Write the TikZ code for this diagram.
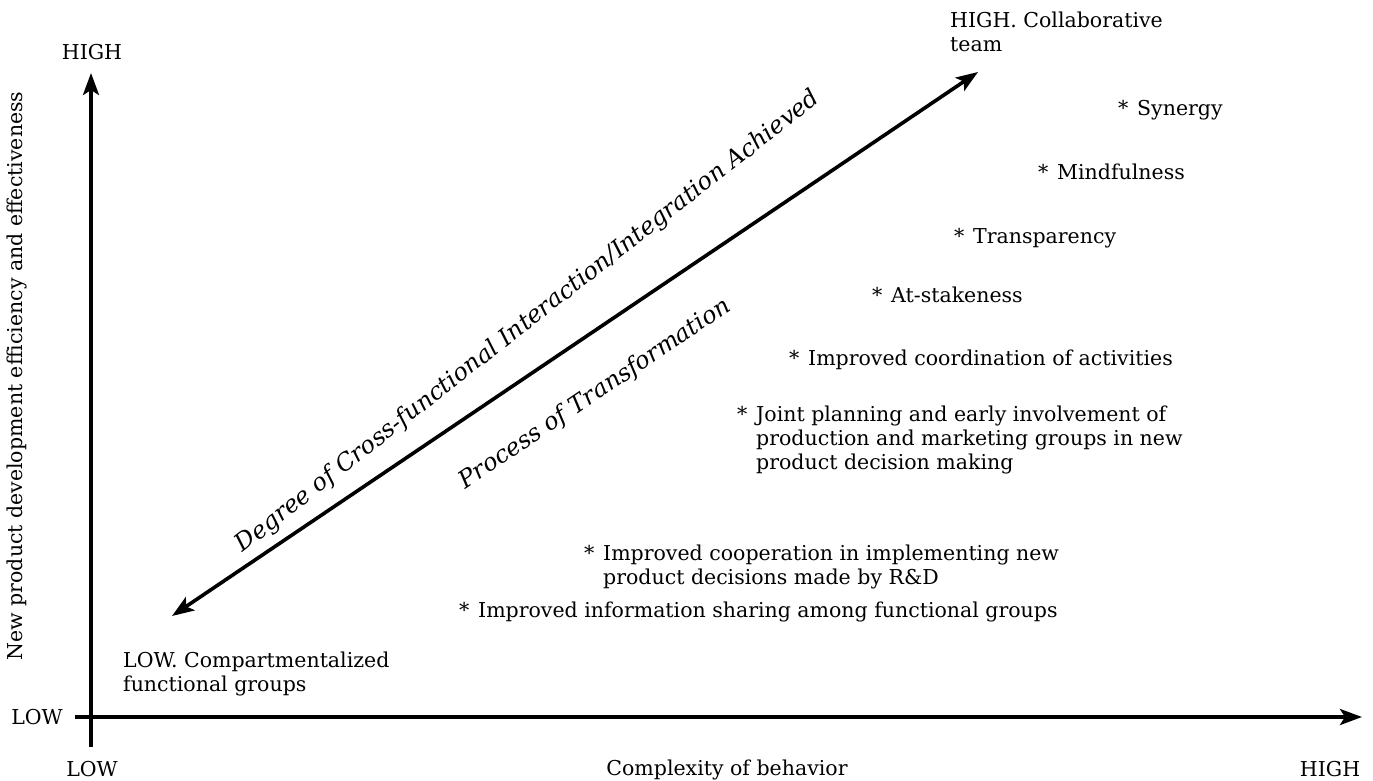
\documentclass[tikz,border=0pt]{standalone}
\usepackage{fontspec}
\setmainfont{DejaVu Serif}
\usetikzlibrary{arrows.meta}
\begin{document}
\begin{tikzpicture}[x=1pt,y=-1pt,
  axis/.style={line width=3.6pt,-{Stealth[length=22pt,width=16pt,inset=5pt]}},
  diag/.style={line width=3.6pt,{Stealth[length=22pt,width=16pt,inset=5pt]}-{Stealth[length=22pt,width=16pt,inset=5pt]}},
  lbl/.style={inner sep=0pt,font=\fontsize{20.5}{24}\selectfont},
  itm/.style={inner sep=0pt,anchor=north west,align=left,font=\fontsize{20.5}{24}\selectfont},
  slant/.style={inner sep=0pt,font=\fontsize{24}{28}\itshape}]
\useasboundingbox (0,0) rectangle (1373,780);
% axes
\coordinate (yb) at (91,747);
\coordinate (yt) at (91,73);
\coordinate (xl) at (75,717);
\coordinate (xr) at (1362,717);
\draw[axis] (yb) -- (yt);
\draw[axis] (xl) -- (xr);
% axis labels
\node[lbl] (hightop) at (92,52) {HIGH};
\node[lbl,anchor=east] (lowleft) at (63,717) {LOW};
\node[lbl] (lowbot) at (92,769) {LOW};
\node[lbl] (highbot) at (1330,769) {HIGH};
\node[lbl] (xlab) at (727,770) {Complexity of behavior};
\node[lbl,rotate=90] (ylab) at (17,376) {New product development efficiency and effectiveness};
% diagonal
\coordinate (dlow) at (172,616);
\coordinate (dhigh) at (978,72);
\draw[diag] (dlow) -- (dhigh);
\node[slant,rotate=38] (degree) at (528,322) {Degree of Cross-functional Interaction/Integration Achieved};
\node[slant,rotate=34] (process) at (595,394) {Process of Transformation};
% endpoints
\node[itm] (highteam) at (950,12) {HIGH. Collaborative\\team};
\node[itm] (lowgroups) at (123,652) {LOW. Compartmentalized\\functional groups};
% items
\newcommand{\st}{\makebox[19pt][l]{*}}
\newcommand{\ind}{\hspace*{19pt}}
\node[itm] (syn) at (1118,100) {\st Synergy};
\node[itm] (mind) at (1038,164) {\st Mindfulness};
\node[itm] (trans) at (954,228) {\st Transparency};
\node[itm] (stake) at (872,287) {\st At-stakeness};
\node[itm] (coord) at (789,350) {\st Improved coordination of activities};
\node[itm] (joint) at (737,406) {\st Joint planning and early involvement of\\\ind production and marketing groups in new\\\ind product decision making};
\node[itm] (coop) at (584,545) {\st Improved cooperation in implementing new\\\ind product decisions made by R\&D};
\node[itm] (info) at (459,602) {\st Improved information sharing among functional groups};
\end{tikzpicture}
\end{document}
